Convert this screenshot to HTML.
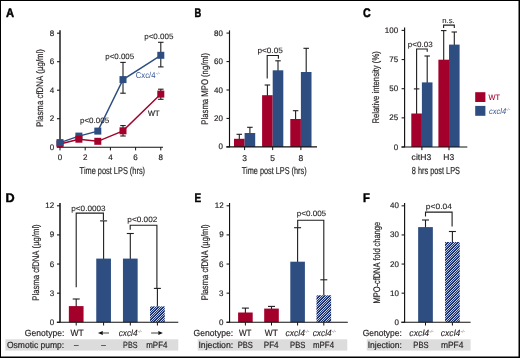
<!DOCTYPE html>
<html><head><meta charset="utf-8"><style>
html,body{margin:0;padding:0;background:#fff;}
svg{display:block;font-family:"Liberation Sans", sans-serif;will-change:transform;text-rendering:geometricPrecision;font-kerning:none;font-variant-ligatures:none;}
</style></head><body>
<svg width="520" height="358" viewBox="0 0 520 358">
<defs><linearGradient id="hg" gradientUnits="userSpaceOnUse" x1="0" y1="0" x2="1.25" y2="1.25" spreadMethod="repeat">
<stop offset="0" stop-color="#1C3675"/><stop offset="0.4" stop-color="#1C3675"/><stop offset="0.65" stop-color="#C8D2EA"/><stop offset="0.8" stop-color="#C8D2EA"/><stop offset="1" stop-color="#1C3675"/></linearGradient></defs>
<rect x="0" y="0" width="520" height="358" fill="#fff"/>
<text x="5.92" y="17.00" font-size="12.4" textLength="8.07" lengthAdjust="spacingAndGlyphs" font-weight="bold" fill="#000" stroke="#000" stroke-width="0.45">A</text>
<line x1="60.00" y1="30.30" x2="60.00" y2="147.50" stroke="#444" stroke-width="1.8"/>
<line x1="57.00" y1="33.20" x2="60.00" y2="33.20" stroke="#1e1e1e" stroke-width="1.1"/>
<text x="49.80" y="35.76" font-size="8" textLength="4.45" lengthAdjust="spacingAndGlyphs" fill="#231F20" stroke="#231F20" stroke-width="0.18">8</text>
<line x1="57.00" y1="61.70" x2="60.00" y2="61.70" stroke="#1e1e1e" stroke-width="1.1"/>
<text x="49.80" y="64.26" font-size="8" textLength="4.45" lengthAdjust="spacingAndGlyphs" fill="#231F20" stroke="#231F20" stroke-width="0.18">6</text>
<line x1="57.00" y1="90.20" x2="60.00" y2="90.20" stroke="#1e1e1e" stroke-width="1.1"/>
<text x="49.69" y="92.76" font-size="8" textLength="4.45" lengthAdjust="spacingAndGlyphs" fill="#231F20" stroke="#231F20" stroke-width="0.18">4</text>
<line x1="57.00" y1="118.70" x2="60.00" y2="118.70" stroke="#1e1e1e" stroke-width="1.1"/>
<text x="49.85" y="121.26" font-size="8" textLength="4.45" lengthAdjust="spacingAndGlyphs" fill="#231F20" stroke="#231F20" stroke-width="0.18">2</text>
<line x1="57.00" y1="147.20" x2="60.00" y2="147.20" stroke="#1e1e1e" stroke-width="1.1"/>
<text x="49.76" y="149.76" font-size="8" textLength="4.45" lengthAdjust="spacingAndGlyphs" fill="#231F20" stroke="#231F20" stroke-width="0.18">0</text>
<line x1="59.30" y1="147.20" x2="163.00" y2="147.20" stroke="#111" stroke-width="1.1"/>
<line x1="60.00" y1="147.20" x2="60.00" y2="150.40" stroke="#111" stroke-width="1.0"/>
<line x1="85.20" y1="147.20" x2="85.20" y2="150.40" stroke="#111" stroke-width="1.0"/>
<line x1="110.40" y1="147.20" x2="110.40" y2="150.40" stroke="#111" stroke-width="1.0"/>
<line x1="135.60" y1="147.20" x2="135.60" y2="150.40" stroke="#111" stroke-width="1.0"/>
<line x1="160.80" y1="147.20" x2="160.80" y2="150.40" stroke="#111" stroke-width="1.0"/>
<text x="57.78" y="160.00" font-size="8" textLength="4.45" lengthAdjust="spacingAndGlyphs" fill="#231F20" stroke="#231F20" stroke-width="0.18">0</text>
<text x="82.98" y="160.00" font-size="8" textLength="4.45" lengthAdjust="spacingAndGlyphs" fill="#231F20" stroke="#231F20" stroke-width="0.18">2</text>
<text x="108.20" y="160.00" font-size="8" textLength="4.45" lengthAdjust="spacingAndGlyphs" fill="#231F20" stroke="#231F20" stroke-width="0.18">4</text>
<text x="133.35" y="160.00" font-size="8" textLength="4.45" lengthAdjust="spacingAndGlyphs" fill="#231F20" stroke="#231F20" stroke-width="0.18">6</text>
<text x="158.58" y="160.00" font-size="8" textLength="4.45" lengthAdjust="spacingAndGlyphs" fill="#231F20" stroke="#231F20" stroke-width="0.18">8</text>
<text x="79.43" y="173.50" font-size="10" textLength="65.62" lengthAdjust="spacingAndGlyphs" fill="#231F20" stroke="#231F20" stroke-width="0.18">Time post LPS (hrs)</text>
<text x="-126.95" y="0" font-size="9.6" textLength="77.93" lengthAdjust="spacingAndGlyphs" fill="#231F20" stroke="#231F20" stroke-width="0.18" transform="translate(43.3,0) rotate(-90)">Plasma cfDNA (µg/ml)</text>
<line x1="123.00" y1="62.40" x2="123.00" y2="93.20" stroke="#1e1e1e" stroke-width="1.1"/>
<line x1="120.25" y1="62.40" x2="125.75" y2="62.40" stroke="#1e1e1e" stroke-width="1.1"/>
<line x1="120.25" y1="93.20" x2="125.75" y2="93.20" stroke="#1e1e1e" stroke-width="1.1"/>
<line x1="160.80" y1="42.30" x2="160.80" y2="66.90" stroke="#1e1e1e" stroke-width="1.1"/>
<line x1="158.05" y1="42.30" x2="163.55" y2="42.30" stroke="#1e1e1e" stroke-width="1.1"/>
<line x1="158.05" y1="66.90" x2="163.55" y2="66.90" stroke="#1e1e1e" stroke-width="1.1"/>
<line x1="123.00" y1="125.60" x2="123.00" y2="136.00" stroke="#1e1e1e" stroke-width="1.1"/>
<line x1="120.25" y1="125.60" x2="125.75" y2="125.60" stroke="#1e1e1e" stroke-width="1.1"/>
<line x1="120.25" y1="136.00" x2="125.75" y2="136.00" stroke="#1e1e1e" stroke-width="1.1"/>
<line x1="160.80" y1="89.20" x2="160.80" y2="99.30" stroke="#1e1e1e" stroke-width="1.1"/>
<line x1="158.05" y1="89.20" x2="163.55" y2="89.20" stroke="#1e1e1e" stroke-width="1.1"/>
<line x1="158.05" y1="99.30" x2="163.55" y2="99.30" stroke="#1e1e1e" stroke-width="1.1"/>
<polyline points="60.00,144.00 78.90,139.20 97.80,141.30 123.00,130.80 160.80,94.10" fill="none" stroke="#A3002B" stroke-width="1.4"/>
<polyline points="60.00,142.60 78.90,136.10 97.80,131.10 123.00,79.60 160.80,55.30" fill="none" stroke="#2E4D80" stroke-width="1.4"/>
<rect x="56.50" y="140.50" width="7.00" height="7.00" fill="#A3002B"/>
<rect x="94.30" y="137.80" width="7.00" height="7.00" fill="#A3002B"/>
<rect x="119.50" y="127.30" width="7.00" height="7.00" fill="#A3002B"/>
<rect x="157.30" y="90.60" width="7.00" height="7.00" fill="#A3002B"/>
<rect x="56.50" y="139.10" width="7.00" height="7.00" fill="#2E4D80"/>
<rect x="75.40" y="132.60" width="7.00" height="7.00" fill="#2E4D80"/>
<rect x="94.30" y="127.60" width="7.00" height="7.00" fill="#2E4D80"/>
<rect x="119.50" y="76.10" width="7.00" height="7.00" fill="#2E4D80"/>
<rect x="157.30" y="51.80" width="7.00" height="7.00" fill="#2E4D80"/>
<rect x="75.40" y="135.70" width="7.00" height="7.00" fill="#A3002B"/>
<text x="79.98" y="122.70" font-size="7.7" textLength="29.15" lengthAdjust="spacingAndGlyphs" fill="#231F20" stroke="#231F20" stroke-width="0.1">p&lt;0.005</text>
<text x="105.29" y="59.10" font-size="7.7" textLength="28.84" lengthAdjust="spacingAndGlyphs" fill="#231F20" stroke="#231F20" stroke-width="0.1">p&lt;0.005</text>
<text x="144.18" y="38.90" font-size="7.7" textLength="29.36" lengthAdjust="spacingAndGlyphs" fill="#231F20" stroke="#231F20" stroke-width="0.1">p&lt;0.005</text>
<text x="135.71" y="77.50" font-size="8.5" textLength="19.72" lengthAdjust="spacingAndGlyphs" fill="#3A5894">Cxc/4</text>
<text x="155.70" y="75.00" font-size="4.6" font-style="italic" fill="#7F93BC">-/-</text>
<text x="147.97" y="115.50" font-size="7.8" textLength="11.50" lengthAdjust="spacingAndGlyphs" fill="#231F20" stroke="#231F20" stroke-width="0.18">WT</text>
<text x="194.57" y="16.90" font-size="12.4" textLength="6.75" lengthAdjust="spacingAndGlyphs" font-weight="bold" fill="#000" stroke="#000" stroke-width="0.45">B</text>
<line x1="229.50" y1="30.40" x2="229.50" y2="147.30" stroke="#111" stroke-width="1.15"/>
<line x1="226.50" y1="33.10" x2="229.50" y2="33.10" stroke="#1e1e1e" stroke-width="1.1"/>
<text x="214.11" y="35.66" font-size="8" textLength="8.90" lengthAdjust="spacingAndGlyphs" fill="#231F20" stroke="#231F20" stroke-width="0.18">80</text>
<line x1="226.50" y1="61.55" x2="229.50" y2="61.55" stroke="#1e1e1e" stroke-width="1.1"/>
<text x="214.11" y="64.11" font-size="8" textLength="8.90" lengthAdjust="spacingAndGlyphs" fill="#231F20" stroke="#231F20" stroke-width="0.18">60</text>
<line x1="226.50" y1="90.00" x2="229.50" y2="90.00" stroke="#1e1e1e" stroke-width="1.1"/>
<text x="214.11" y="92.56" font-size="8" textLength="8.90" lengthAdjust="spacingAndGlyphs" fill="#231F20" stroke="#231F20" stroke-width="0.18">40</text>
<line x1="226.50" y1="118.45" x2="229.50" y2="118.45" stroke="#1e1e1e" stroke-width="1.1"/>
<text x="214.11" y="121.01" font-size="8" textLength="8.90" lengthAdjust="spacingAndGlyphs" fill="#231F20" stroke="#231F20" stroke-width="0.18">20</text>
<line x1="226.50" y1="146.90" x2="229.50" y2="146.90" stroke="#1e1e1e" stroke-width="1.1"/>
<text x="218.56" y="149.46" font-size="8" textLength="4.45" lengthAdjust="spacingAndGlyphs" fill="#231F20" stroke="#231F20" stroke-width="0.18">0</text>
<line x1="239.30" y1="139.80" x2="239.30" y2="134.30" stroke="#1e1e1e" stroke-width="1.1"/>
<line x1="236.55" y1="134.30" x2="242.05" y2="134.30" stroke="#1e1e1e" stroke-width="1.1"/>
<line x1="249.90" y1="134.00" x2="249.90" y2="127.30" stroke="#1e1e1e" stroke-width="1.1"/>
<line x1="247.15" y1="127.30" x2="252.65" y2="127.30" stroke="#1e1e1e" stroke-width="1.1"/>
<rect x="234.00" y="138.80" width="10.60" height="8.10" fill="#A3002B"/>
<rect x="244.60" y="133.00" width="10.60" height="13.90" fill="#2E4D80"/>
<line x1="267.40" y1="96.20" x2="267.40" y2="85.00" stroke="#1e1e1e" stroke-width="1.1"/>
<line x1="264.65" y1="85.00" x2="270.15" y2="85.00" stroke="#1e1e1e" stroke-width="1.1"/>
<line x1="278.00" y1="71.30" x2="278.00" y2="60.80" stroke="#1e1e1e" stroke-width="1.1"/>
<line x1="275.25" y1="60.80" x2="280.75" y2="60.80" stroke="#1e1e1e" stroke-width="1.1"/>
<rect x="262.10" y="95.20" width="10.60" height="51.70" fill="#A3002B"/>
<rect x="272.70" y="70.30" width="10.60" height="76.60" fill="#2E4D80"/>
<line x1="295.60" y1="120.00" x2="295.60" y2="110.70" stroke="#1e1e1e" stroke-width="1.1"/>
<line x1="292.85" y1="110.70" x2="298.35" y2="110.70" stroke="#1e1e1e" stroke-width="1.1"/>
<line x1="306.20" y1="73.00" x2="306.20" y2="48.30" stroke="#1e1e1e" stroke-width="1.1"/>
<line x1="303.45" y1="48.30" x2="308.95" y2="48.30" stroke="#1e1e1e" stroke-width="1.1"/>
<rect x="290.30" y="119.00" width="10.60" height="27.90" fill="#A3002B"/>
<rect x="300.90" y="72.00" width="10.60" height="74.90" fill="#2E4D80"/>
<line x1="226.30" y1="146.90" x2="317.00" y2="146.90" stroke="#111" stroke-width="1.1"/>
<line x1="244.60" y1="146.90" x2="244.60" y2="150.10" stroke="#111" stroke-width="1.0"/>
<line x1="272.70" y1="146.90" x2="272.70" y2="150.10" stroke="#111" stroke-width="1.0"/>
<line x1="300.90" y1="146.90" x2="300.90" y2="150.10" stroke="#111" stroke-width="1.0"/>
<text x="242.26" y="160.50" font-size="8.5" textLength="4.73" lengthAdjust="spacingAndGlyphs" fill="#231F20" stroke="#231F20" stroke-width="0.18">3</text>
<text x="270.34" y="160.50" font-size="8.5" textLength="4.73" lengthAdjust="spacingAndGlyphs" fill="#231F20" stroke="#231F20" stroke-width="0.18">5</text>
<text x="298.54" y="160.50" font-size="8.5" textLength="4.73" lengthAdjust="spacingAndGlyphs" fill="#231F20" stroke="#231F20" stroke-width="0.18">8</text>
<text x="241.64" y="173.60" font-size="10" textLength="65.02" lengthAdjust="spacingAndGlyphs" fill="#231F20" stroke="#231F20" stroke-width="0.18">Time post LPS (hrs)</text>
<text x="-124.63" y="0" font-size="9.6" textLength="71.71" lengthAdjust="spacingAndGlyphs" fill="#231F20" stroke="#231F20" stroke-width="0.18" transform="translate(208.3,0) rotate(-90)">Plasma MPO (ng/ml)</text>
<polyline points="267.20,78.50 267.20,55.50 278.40,55.50 278.40,58.80" fill="none" stroke="#1e1e1e" stroke-width="1.1"/>
<text x="257.47" y="52.70" font-size="7.7" textLength="25.27" lengthAdjust="spacingAndGlyphs" fill="#231F20" stroke="#231F20" stroke-width="0.1">p&lt;0.05</text>
<text x="363.06" y="17.00" font-size="12.4" textLength="7.73" lengthAdjust="spacingAndGlyphs" font-weight="bold" fill="#000" stroke="#000" stroke-width="0.45">C</text>
<line x1="404.60" y1="27.50" x2="404.60" y2="147.30" stroke="#111" stroke-width="1.15"/>
<line x1="401.60" y1="30.40" x2="404.60" y2="30.40" stroke="#1e1e1e" stroke-width="1.1"/>
<text x="384.86" y="32.96" font-size="8" textLength="13.35" lengthAdjust="spacingAndGlyphs" fill="#231F20" stroke="#231F20" stroke-width="0.18">100</text>
<line x1="401.60" y1="59.55" x2="404.60" y2="59.55" stroke="#1e1e1e" stroke-width="1.1"/>
<text x="389.34" y="62.11" font-size="8" textLength="8.90" lengthAdjust="spacingAndGlyphs" fill="#231F20" stroke="#231F20" stroke-width="0.18">75</text>
<line x1="401.60" y1="88.70" x2="404.60" y2="88.70" stroke="#1e1e1e" stroke-width="1.1"/>
<text x="389.31" y="91.26" font-size="8" textLength="8.90" lengthAdjust="spacingAndGlyphs" fill="#231F20" stroke="#231F20" stroke-width="0.18">50</text>
<line x1="401.60" y1="117.85" x2="404.60" y2="117.85" stroke="#1e1e1e" stroke-width="1.1"/>
<text x="389.34" y="120.41" font-size="8" textLength="8.90" lengthAdjust="spacingAndGlyphs" fill="#231F20" stroke="#231F20" stroke-width="0.18">25</text>
<line x1="401.60" y1="147.00" x2="404.60" y2="147.00" stroke="#1e1e1e" stroke-width="1.1"/>
<text x="393.76" y="149.56" font-size="8" textLength="4.45" lengthAdjust="spacingAndGlyphs" fill="#231F20" stroke="#231F20" stroke-width="0.18">0</text>
<line x1="416.60" y1="114.50" x2="416.60" y2="88.90" stroke="#1e1e1e" stroke-width="1.1"/>
<line x1="413.85" y1="88.90" x2="419.35" y2="88.90" stroke="#1e1e1e" stroke-width="1.1"/>
<line x1="427.20" y1="83.40" x2="427.20" y2="56.00" stroke="#1e1e1e" stroke-width="1.1"/>
<line x1="424.45" y1="56.00" x2="429.95" y2="56.00" stroke="#1e1e1e" stroke-width="1.1"/>
<rect x="411.30" y="113.50" width="10.60" height="33.50" fill="#A3002B"/>
<rect x="421.90" y="82.40" width="10.60" height="64.60" fill="#2E4D80"/>
<line x1="443.70" y1="60.70" x2="443.70" y2="30.60" stroke="#1e1e1e" stroke-width="1.1"/>
<line x1="440.95" y1="30.60" x2="446.45" y2="30.60" stroke="#1e1e1e" stroke-width="1.1"/>
<line x1="454.30" y1="45.60" x2="454.30" y2="32.00" stroke="#1e1e1e" stroke-width="1.1"/>
<line x1="451.55" y1="32.00" x2="457.05" y2="32.00" stroke="#1e1e1e" stroke-width="1.1"/>
<rect x="438.40" y="59.70" width="10.60" height="87.30" fill="#A3002B"/>
<rect x="449.00" y="44.60" width="10.60" height="102.40" fill="#2E4D80"/>
<line x1="401.50" y1="147.00" x2="467.30" y2="147.00" stroke="#111" stroke-width="1.1"/>
<line x1="421.90" y1="147.00" x2="421.90" y2="150.20" stroke="#111" stroke-width="1.0"/>
<line x1="449.00" y1="147.00" x2="449.00" y2="150.20" stroke="#111" stroke-width="1.0"/>
<text x="411.64" y="159.80" font-size="8.5" textLength="19.54" lengthAdjust="spacingAndGlyphs" fill="#231F20" stroke="#231F20" stroke-width="0.18">citH3</text>
<text x="443.30" y="159.80" font-size="8.5" textLength="10.87" lengthAdjust="spacingAndGlyphs" fill="#231F20" stroke="#231F20" stroke-width="0.18">H3</text>
<text x="411.78" y="173.80" font-size="10.2" textLength="48.26" lengthAdjust="spacingAndGlyphs" fill="#231F20" stroke="#231F20" stroke-width="0.18">8 hrs post LPS</text>
<text x="-123.53" y="0" font-size="9.6" textLength="72.31" lengthAdjust="spacingAndGlyphs" fill="#231F20" stroke="#231F20" stroke-width="0.18" transform="translate(379.2,0) rotate(-90)">Relative intensity (%)</text>
<polyline points="416.60,88.90 416.60,49.00 427.20,49.00 427.20,51.80" fill="none" stroke="#1e1e1e" stroke-width="1.1"/>
<text x="407.88" y="46.80" font-size="7.7" textLength="24.77" lengthAdjust="spacingAndGlyphs" fill="#231F20" stroke="#231F20" stroke-width="0.1">p&lt;0.03</text>
<polyline points="443.60,28.00 443.60,25.10 454.30,25.10 454.30,28.00" fill="none" stroke="#1e1e1e" stroke-width="1.1"/>
<text x="442.29" y="23.40" font-size="7.5" textLength="12.41" lengthAdjust="spacingAndGlyphs" fill="#231F20" stroke="#231F20" stroke-width="0.1">n.s.</text>
<rect x="475.20" y="92.20" width="10.20" height="9.80" fill="#A3002B"/>
<rect x="475.20" y="105.90" width="10.20" height="9.90" fill="#2E4D80"/>
<text x="488.57" y="99.60" font-size="7.8" textLength="11.40" lengthAdjust="spacingAndGlyphs" fill="#A3002B" stroke="#A3002B" stroke-width="0.1">WT</text>
<text x="488.95" y="114.00" font-size="8.2" textLength="17.33" lengthAdjust="spacingAndGlyphs" font-style="italic" fill="#3A5894">cxcl4</text>
<text x="506.00" y="110.80" font-size="4.6" font-style="italic" fill="#7F93BC">-/-</text>
<text x="5.55" y="201.70" font-size="12.4" textLength="9.13" lengthAdjust="spacingAndGlyphs" font-weight="bold" fill="#000" stroke="#000" stroke-width="0.45">D</text>
<line x1="60.00" y1="203.00" x2="60.00" y2="322.50" stroke="#444" stroke-width="1.9"/>
<line x1="57.00" y1="205.78" x2="60.00" y2="205.78" stroke="#1e1e1e" stroke-width="1.1"/>
<text x="45.30" y="208.34" font-size="8" textLength="8.90" lengthAdjust="spacingAndGlyphs" fill="#231F20" stroke="#231F20" stroke-width="0.18">12</text>
<line x1="57.00" y1="234.91" x2="60.00" y2="234.91" stroke="#1e1e1e" stroke-width="1.1"/>
<text x="49.73" y="237.47" font-size="8" textLength="4.45" lengthAdjust="spacingAndGlyphs" fill="#231F20" stroke="#231F20" stroke-width="0.18">9</text>
<line x1="57.00" y1="264.04" x2="60.00" y2="264.04" stroke="#1e1e1e" stroke-width="1.1"/>
<text x="49.70" y="266.60" font-size="8" textLength="4.45" lengthAdjust="spacingAndGlyphs" fill="#231F20" stroke="#231F20" stroke-width="0.18">6</text>
<line x1="57.00" y1="293.17" x2="60.00" y2="293.17" stroke="#1e1e1e" stroke-width="1.1"/>
<text x="49.70" y="295.73" font-size="8" textLength="4.45" lengthAdjust="spacingAndGlyphs" fill="#231F20" stroke="#231F20" stroke-width="0.18">3</text>
<line x1="57.00" y1="322.30" x2="60.00" y2="322.30" stroke="#1e1e1e" stroke-width="1.1"/>
<text x="49.66" y="324.86" font-size="8" textLength="4.45" lengthAdjust="spacingAndGlyphs" fill="#231F20" stroke="#231F20" stroke-width="0.18">0</text>
<line x1="76.20" y1="307.10" x2="76.20" y2="299.00" stroke="#1e1e1e" stroke-width="1.1"/>
<line x1="72.70" y1="299.00" x2="79.70" y2="299.00" stroke="#1e1e1e" stroke-width="1.1"/>
<rect x="68.85" y="306.10" width="14.70" height="16.20" fill="#A3002B"/>
<line x1="103.60" y1="259.60" x2="103.60" y2="220.90" stroke="#1e1e1e" stroke-width="1.1"/>
<line x1="100.10" y1="220.90" x2="107.10" y2="220.90" stroke="#1e1e1e" stroke-width="1.1"/>
<rect x="96.25" y="258.60" width="14.70" height="63.70" fill="#2E4D80"/>
<line x1="130.30" y1="259.60" x2="130.30" y2="233.50" stroke="#1e1e1e" stroke-width="1.1"/>
<line x1="126.80" y1="233.50" x2="133.80" y2="233.50" stroke="#1e1e1e" stroke-width="1.1"/>
<rect x="122.95" y="258.60" width="14.70" height="63.70" fill="#2E4D80"/>
<line x1="157.40" y1="307.40" x2="157.40" y2="288.40" stroke="#1e1e1e" stroke-width="1.1"/>
<line x1="153.90" y1="288.40" x2="160.90" y2="288.40" stroke="#1e1e1e" stroke-width="1.1"/>
<rect x="150.05" y="306.40" width="14.70" height="15.90" fill="url(#hg)"/>
<line x1="56.80" y1="322.30" x2="178.30" y2="322.30" stroke="#111" stroke-width="1.1"/>
<line x1="76.20" y1="322.30" x2="76.20" y2="325.50" stroke="#111" stroke-width="1.0"/>
<line x1="103.60" y1="322.30" x2="103.60" y2="325.50" stroke="#111" stroke-width="1.0"/>
<line x1="130.30" y1="322.30" x2="130.30" y2="325.50" stroke="#111" stroke-width="1.0"/>
<line x1="157.40" y1="322.30" x2="157.40" y2="325.50" stroke="#111" stroke-width="1.0"/>
<polyline points="76.20,287.20 76.20,213.10 103.40,213.10 103.40,220.30" fill="none" stroke="#1e1e1e" stroke-width="1.1"/>
<text x="71.27" y="210.60" font-size="7.7" textLength="34.39" lengthAdjust="spacingAndGlyphs" fill="#231F20" stroke="#231F20" stroke-width="0.1">p&lt;0.0003</text>
<polyline points="130.20,229.70 130.20,225.20 156.90,225.20 156.90,288.40" fill="none" stroke="#1e1e1e" stroke-width="1.1"/>
<text x="127.37" y="221.90" font-size="7.7" textLength="29.94" lengthAdjust="spacingAndGlyphs" fill="#231F20" stroke="#231F20" stroke-width="0.1">p&lt;0.002</text>
<text x="-300.63" y="0" font-size="9.6" textLength="76.31" lengthAdjust="spacingAndGlyphs" fill="#231F20" stroke="#231F20" stroke-width="0.18" transform="translate(39.0,0) rotate(-90)">Plasma cfDNA (µg/ml)</text>
<rect x="5.40" y="339.30" width="172.90" height="11.30" fill="#DCDCDC"/>
<text x="24.87" y="335.70" font-size="9" textLength="39.51" lengthAdjust="spacingAndGlyphs" fill="#231F20" stroke="#231F20" stroke-width="0.18">Genotype:</text>
<text x="70.56" y="335.70" font-size="9" textLength="13.23" lengthAdjust="spacingAndGlyphs" fill="#231F20" stroke="#231F20" stroke-width="0.18">WT</text>
<path d="M97.9,333 L102.8,331.1 L102.8,334.9 Z" fill="#111"/>
<line x1="102.50" y1="333.00" x2="109.00" y2="333.00" stroke="#555" stroke-width="1.1"/>
<text x="118.63" y="335.70" font-size="9" textLength="18.88" lengthAdjust="spacingAndGlyphs" font-style="italic" fill="#231F20" stroke="#231F20" stroke-width="0.12">cxcl4</text>
<text x="137.50" y="332.50" font-size="4.6" font-style="italic" fill="#777">-/-</text>
<path d="M162.9,333 L158.3,331.0 L158.3,335.0 Z" fill="#111"/>
<line x1="151.10" y1="333.00" x2="158.60" y2="333.00" stroke="#555" stroke-width="1.1"/>
<text x="7.00" y="347.60" font-size="9" textLength="57.18" lengthAdjust="spacingAndGlyphs" fill="#231F20" stroke="#231F20" stroke-width="0.18">Osmotic pump:</text>
<text x="74.00" y="347.60" font-size="9" textLength="4.50" lengthAdjust="spacingAndGlyphs" fill="#231F20" stroke="#231F20" stroke-width="0.18">–</text>
<text x="101.20" y="347.60" font-size="9" textLength="4.50" lengthAdjust="spacingAndGlyphs" fill="#231F20" stroke="#231F20" stroke-width="0.18">–</text>
<text x="123.11" y="347.60" font-size="9" textLength="14.42" lengthAdjust="spacingAndGlyphs" fill="#231F20" stroke="#231F20" stroke-width="0.18">PBS</text>
<text x="146.27" y="347.60" font-size="9" textLength="21.16" lengthAdjust="spacingAndGlyphs" fill="#231F20" stroke="#231F20" stroke-width="0.18">mPF4</text>
<text x="194.43" y="201.70" font-size="12.4" textLength="6.66" lengthAdjust="spacingAndGlyphs" font-weight="bold" fill="#000" stroke="#000" stroke-width="0.45">E</text>
<line x1="229.55" y1="203.00" x2="229.55" y2="322.50" stroke="#111" stroke-width="1.15"/>
<line x1="226.55" y1="205.78" x2="229.55" y2="205.78" stroke="#1e1e1e" stroke-width="1.1"/>
<text x="214.70" y="208.34" font-size="8" textLength="8.90" lengthAdjust="spacingAndGlyphs" fill="#231F20" stroke="#231F20" stroke-width="0.18">12</text>
<line x1="226.55" y1="234.91" x2="229.55" y2="234.91" stroke="#1e1e1e" stroke-width="1.1"/>
<text x="219.13" y="237.47" font-size="8" textLength="4.45" lengthAdjust="spacingAndGlyphs" fill="#231F20" stroke="#231F20" stroke-width="0.18">9</text>
<line x1="226.55" y1="264.04" x2="229.55" y2="264.04" stroke="#1e1e1e" stroke-width="1.1"/>
<text x="219.10" y="266.60" font-size="8" textLength="4.45" lengthAdjust="spacingAndGlyphs" fill="#231F20" stroke="#231F20" stroke-width="0.18">6</text>
<line x1="226.55" y1="293.17" x2="229.55" y2="293.17" stroke="#1e1e1e" stroke-width="1.1"/>
<text x="219.10" y="295.73" font-size="8" textLength="4.45" lengthAdjust="spacingAndGlyphs" fill="#231F20" stroke="#231F20" stroke-width="0.18">3</text>
<line x1="226.55" y1="322.30" x2="229.55" y2="322.30" stroke="#1e1e1e" stroke-width="1.1"/>
<text x="219.06" y="324.86" font-size="8" textLength="4.45" lengthAdjust="spacingAndGlyphs" fill="#231F20" stroke="#231F20" stroke-width="0.18">0</text>
<line x1="245.40" y1="313.50" x2="245.40" y2="308.10" stroke="#1e1e1e" stroke-width="1.1"/>
<line x1="241.90" y1="308.10" x2="248.90" y2="308.10" stroke="#1e1e1e" stroke-width="1.1"/>
<rect x="238.10" y="312.50" width="14.60" height="9.80" fill="#A3002B"/>
<line x1="271.50" y1="309.60" x2="271.50" y2="306.40" stroke="#1e1e1e" stroke-width="1.1"/>
<line x1="268.00" y1="306.40" x2="275.00" y2="306.40" stroke="#1e1e1e" stroke-width="1.1"/>
<rect x="264.20" y="308.60" width="14.60" height="13.70" fill="#A3002B"/>
<line x1="297.60" y1="262.70" x2="297.60" y2="227.70" stroke="#1e1e1e" stroke-width="1.1"/>
<line x1="294.10" y1="227.70" x2="301.10" y2="227.70" stroke="#1e1e1e" stroke-width="1.1"/>
<rect x="290.30" y="261.70" width="14.60" height="60.60" fill="#2E4D80"/>
<line x1="323.80" y1="296.30" x2="323.80" y2="279.80" stroke="#1e1e1e" stroke-width="1.1"/>
<line x1="320.30" y1="279.80" x2="327.30" y2="279.80" stroke="#1e1e1e" stroke-width="1.1"/>
<rect x="316.50" y="295.30" width="14.60" height="27.00" fill="url(#hg)"/>
<line x1="226.40" y1="322.30" x2="347.80" y2="322.30" stroke="#111" stroke-width="1.1"/>
<line x1="245.40" y1="322.30" x2="245.40" y2="325.50" stroke="#111" stroke-width="1.0"/>
<line x1="271.50" y1="322.30" x2="271.50" y2="325.50" stroke="#111" stroke-width="1.0"/>
<line x1="297.60" y1="322.30" x2="297.60" y2="325.50" stroke="#111" stroke-width="1.0"/>
<line x1="323.80" y1="322.30" x2="323.80" y2="325.50" stroke="#111" stroke-width="1.0"/>
<polyline points="297.70,227.70 297.70,220.20 323.80,220.20 323.80,279.80" fill="none" stroke="#1e1e1e" stroke-width="1.1"/>
<text x="296.68" y="216.40" font-size="7.7" textLength="29.46" lengthAdjust="spacingAndGlyphs" fill="#231F20" stroke="#231F20" stroke-width="0.1">p&lt;0.005</text>
<text x="-300.23" y="0" font-size="9.6" textLength="75.90" lengthAdjust="spacingAndGlyphs" fill="#231F20" stroke="#231F20" stroke-width="0.18" transform="translate(208.2,0) rotate(-90)">Plasma cfDNA (µg/ml)</text>
<rect x="197.70" y="339.30" width="149.60" height="11.30" fill="#DCDCDC"/>
<text x="193.57" y="335.70" font-size="9" textLength="39.62" lengthAdjust="spacingAndGlyphs" fill="#231F20" stroke="#231F20" stroke-width="0.18">Genotype:</text>
<text x="238.96" y="335.70" font-size="9" textLength="12.52" lengthAdjust="spacingAndGlyphs" fill="#231F20" stroke="#231F20" stroke-width="0.18">WT</text>
<text x="264.86" y="335.70" font-size="9" textLength="13.03" lengthAdjust="spacingAndGlyphs" fill="#231F20" stroke="#231F20" stroke-width="0.18">WT</text>
<text x="285.52" y="335.70" font-size="9" textLength="19.40" lengthAdjust="spacingAndGlyphs" font-style="italic" fill="#231F20" stroke="#231F20" stroke-width="0.12">cxcl4</text>
<text x="304.90" y="332.50" font-size="4.6" font-style="italic" fill="#777">-/-</text>
<text x="312.63" y="335.70" font-size="9" textLength="19.09" lengthAdjust="spacingAndGlyphs" font-style="italic" fill="#231F20" stroke="#231F20" stroke-width="0.12">cxcl4</text>
<text x="331.70" y="332.50" font-size="4.6" font-style="italic" fill="#777">-/-</text>
<text x="198.40" y="347.60" font-size="9" textLength="34.80" lengthAdjust="spacingAndGlyphs" fill="#231F20" stroke="#231F20" stroke-width="0.18">Injection:</text>
<text x="237.68" y="347.60" font-size="9" textLength="15.17" lengthAdjust="spacingAndGlyphs" fill="#231F20" stroke="#231F20" stroke-width="0.18">PBS</text>
<text x="263.73" y="347.60" font-size="9" textLength="14.90" lengthAdjust="spacingAndGlyphs" fill="#231F20" stroke="#231F20" stroke-width="0.18">PF4</text>
<text x="290.07" y="347.60" font-size="9" textLength="15.28" lengthAdjust="spacingAndGlyphs" fill="#231F20" stroke="#231F20" stroke-width="0.18">PBS</text>
<text x="313.08" y="347.60" font-size="9" textLength="20.95" lengthAdjust="spacingAndGlyphs" fill="#231F20" stroke="#231F20" stroke-width="0.18">mPF4</text>
<text x="363.05" y="201.70" font-size="12.4" textLength="6.86" lengthAdjust="spacingAndGlyphs" font-weight="bold" fill="#000" stroke="#000" stroke-width="0.45">F</text>
<line x1="404.60" y1="203.00" x2="404.60" y2="322.50" stroke="#111" stroke-width="1.15"/>
<line x1="401.60" y1="205.80" x2="404.60" y2="205.80" stroke="#1e1e1e" stroke-width="1.1"/>
<text x="390.01" y="208.36" font-size="8" textLength="8.90" lengthAdjust="spacingAndGlyphs" fill="#231F20" stroke="#231F20" stroke-width="0.18">40</text>
<line x1="401.60" y1="234.93" x2="404.60" y2="234.93" stroke="#1e1e1e" stroke-width="1.1"/>
<text x="390.01" y="237.49" font-size="8" textLength="8.90" lengthAdjust="spacingAndGlyphs" fill="#231F20" stroke="#231F20" stroke-width="0.18">30</text>
<line x1="401.60" y1="264.05" x2="404.60" y2="264.05" stroke="#1e1e1e" stroke-width="1.1"/>
<text x="390.01" y="266.61" font-size="8" textLength="8.90" lengthAdjust="spacingAndGlyphs" fill="#231F20" stroke="#231F20" stroke-width="0.18">20</text>
<line x1="401.60" y1="293.18" x2="404.60" y2="293.18" stroke="#1e1e1e" stroke-width="1.1"/>
<text x="390.01" y="295.74" font-size="8" textLength="8.90" lengthAdjust="spacingAndGlyphs" fill="#231F20" stroke="#231F20" stroke-width="0.18">10</text>
<line x1="401.60" y1="322.30" x2="404.60" y2="322.30" stroke="#1e1e1e" stroke-width="1.1"/>
<text x="394.46" y="324.86" font-size="8" textLength="4.45" lengthAdjust="spacingAndGlyphs" fill="#231F20" stroke="#231F20" stroke-width="0.18">0</text>
<line x1="425.50" y1="228.10" x2="425.50" y2="220.00" stroke="#1e1e1e" stroke-width="1.1"/>
<line x1="422.00" y1="220.00" x2="429.00" y2="220.00" stroke="#1e1e1e" stroke-width="1.1"/>
<rect x="418.15" y="227.10" width="14.70" height="95.20" fill="#2E4D80"/>
<line x1="452.40" y1="243.00" x2="452.40" y2="231.50" stroke="#1e1e1e" stroke-width="1.1"/>
<line x1="448.90" y1="231.50" x2="455.90" y2="231.50" stroke="#1e1e1e" stroke-width="1.1"/>
<rect x="445.05" y="242.00" width="14.70" height="80.30" fill="url(#hg)"/>
<line x1="401.20" y1="322.30" x2="470.60" y2="322.30" stroke="#111" stroke-width="1.1"/>
<line x1="425.50" y1="322.30" x2="425.50" y2="325.50" stroke="#111" stroke-width="1.0"/>
<line x1="452.40" y1="322.30" x2="452.40" y2="325.50" stroke="#111" stroke-width="1.0"/>
<polyline points="425.50,216.40 425.50,212.10 452.10,212.10 452.10,226.40" fill="none" stroke="#1e1e1e" stroke-width="1.1"/>
<text x="425.86" y="208.80" font-size="7.7" textLength="25.99" lengthAdjust="spacingAndGlyphs" fill="#231F20" stroke="#231F20" stroke-width="0.1">p&lt;0.04</text>
<text x="-303.51" y="0" font-size="9.6" textLength="81.54" lengthAdjust="spacingAndGlyphs" fill="#231F20" stroke="#231F20" stroke-width="0.18" transform="translate(379.7,0) rotate(-90)">MPO-cfDNA fold change</text>
<rect x="366.80" y="339.30" width="103.80" height="11.30" fill="#DCDCDC"/>
<text x="362.67" y="335.70" font-size="9" textLength="39.31" lengthAdjust="spacingAndGlyphs" fill="#231F20" stroke="#231F20" stroke-width="0.18">Genotype:</text>
<text x="409.31" y="335.70" font-size="9" textLength="19.91" lengthAdjust="spacingAndGlyphs" font-style="italic" fill="#231F20" stroke="#231F20" stroke-width="0.12">cxcl4</text>
<text x="429.20" y="332.50" font-size="4.6" font-style="italic" fill="#777">-/-</text>
<text x="440.72" y="335.70" font-size="9" textLength="19.71" lengthAdjust="spacingAndGlyphs" font-style="italic" fill="#231F20" stroke="#231F20" stroke-width="0.12">cxcl4</text>
<text x="460.40" y="332.50" font-size="4.6" font-style="italic" fill="#777">-/-</text>
<text x="367.71" y="347.60" font-size="9" textLength="34.27" lengthAdjust="spacingAndGlyphs" fill="#231F20" stroke="#231F20" stroke-width="0.18">Injection:</text>
<text x="413.37" y="347.60" font-size="9" textLength="15.28" lengthAdjust="spacingAndGlyphs" fill="#231F20" stroke="#231F20" stroke-width="0.18">PBS</text>
<text x="440.94" y="347.60" font-size="9" textLength="22.51" lengthAdjust="spacingAndGlyphs" fill="#231F20" stroke="#231F20" stroke-width="0.18">mPF4</text>
<rect x="0" y="0" width="520" height="1" fill="#000"/>
<rect x="0" y="0" width="1" height="358" fill="#000"/>
<rect x="518.5" y="0" width="1.5" height="358" fill="#000"/>
<rect x="0" y="356.5" width="520" height="1.5" fill="#000"/>
</svg>
</body></html>
